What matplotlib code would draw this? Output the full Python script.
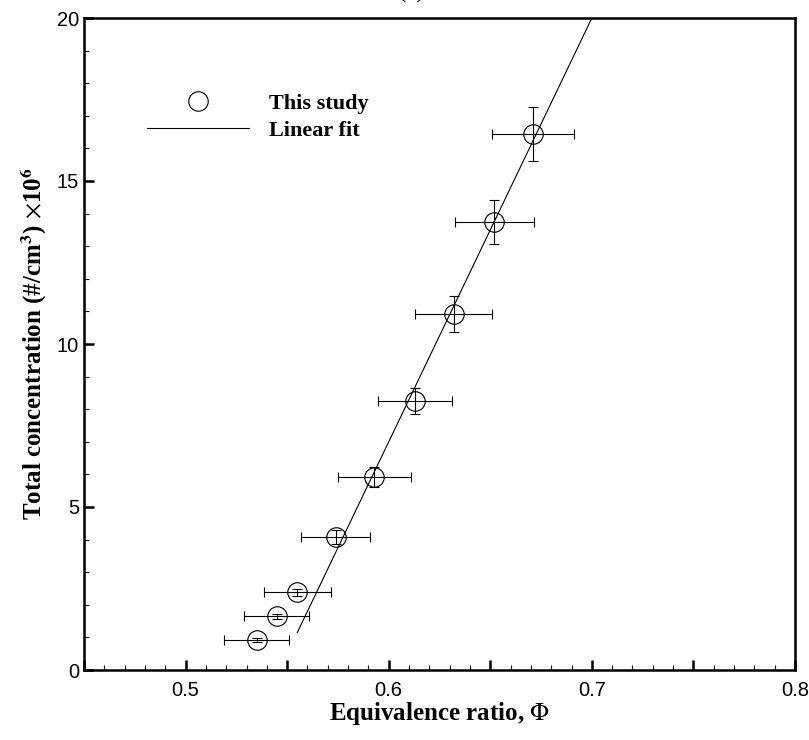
import numpy as np
import matplotlib.pyplot as plt
from matplotlib.ticker import MultipleLocator, FixedFormatter, FixedLocator

# dane
phi = [0.535, 0.545, 0.555, 0.574, 0.593, 0.613, 0.632, 0.652, 0.671]
conc = [0.92, 1.65, 2.38, 4.08, 5.92, 8.25, 10.92, 13.74, 16.44]
phi_err = [0.016, 0.016, 0.0165, 0.017, 0.0178, 0.0183, 0.019, 0.0195, 0.020]
conc_err = [0.05, 0.08, 0.12, 0.22, 0.30, 0.40, 0.54, 0.68, 0.83]

# dopasowanie liniowe y = a*x + b
fit_coef = [130.0, -71.0]
fit_range = [0.555, 0.72]

plt.rcParams['mathtext.fontset'] = 'stix'

fig = plt.figure(figsize=(8.09, 7.40), dpi=100)
ax = fig.add_axes([84 / 809, 1 - 670 / 740, (795 - 84) / 809, (670 - 18) / 740])

ax.errorbar(phi, conc, xerr=phi_err, yerr=conc_err, fmt='none', ecolor='black',
            elinewidth=0.8, capsize=3.5, capthick=0.8, zorder=2)
ax.plot(phi, conc, 'o', markersize=14, markerfacecolor='none', markeredgecolor='black',
        markeredgewidth=0.8, label='This study', zorder=3)
xf = np.array(fit_range)
ax.plot(xf, fit_coef[0] * xf + fit_coef[1], 'k-', lw=0.8, label='Linear fit')

ax.set_xlim(0.45, 0.8)
ax.set_ylim(0, 20)

xt = np.arange(0.45, 0.8001, 0.05)
ax.xaxis.set_major_locator(FixedLocator(xt))
ax.xaxis.set_major_formatter(FixedFormatter(['' if round(v * 100) % 10 else f'{v:.1f}' for v in xt]))
ax.xaxis.set_minor_locator(MultipleLocator(0.01))
ax.yaxis.set_major_locator(MultipleLocator(5))
ax.yaxis.set_minor_locator(MultipleLocator(1))

ax.tick_params(which='both', direction='in', top=False, right=False, labelsize=14.5)
ax.tick_params(which='major', length=7, width=1.8)
ax.tick_params(which='minor', length=3.5, width=0.8)
ax.tick_params(axis='x', pad=8)
for lab in ax.get_xticklabels() + ax.get_yticklabels():
    lab.set_family('Liberation Sans')
for s in ax.spines.values():
    s.set_linewidth(1.8)

ax.set_xlabel(r'Equivalence ratio, $\Phi$', family='Liberation Serif', fontweight='bold',
              fontsize=18, labelpad=0)
ax.set_ylabel(r'Total concentration (#/cm$^\mathbf{3}$) $\times$10$^\mathbf{6}$',
              family='Liberation Serif', fontweight='bold', fontsize=18, labelpad=6)

ax.legend(loc='upper left', bbox_to_anchor=(0.06, 0.915), frameon=False,
          prop={'family': 'Liberation Serif', 'weight': 'bold', 'size': 16},
          handlelength=4.6, labelspacing=0.3, handletextpad=0.9)

fig.text(0.509, 1.012, '(a)', ha='center', va='center', family='Liberation Serif', fontsize=18)

fig.savefig('out.png', dpi=100)
